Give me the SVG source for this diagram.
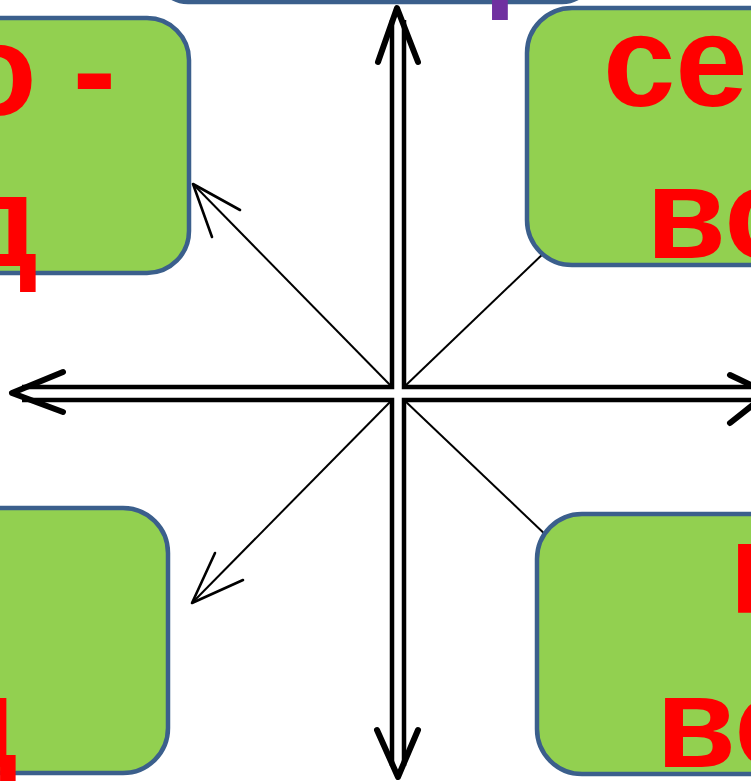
<svg xmlns="http://www.w3.org/2000/svg" width="751" height="781" viewBox="0 0 751 781">
<style>
.box{fill:#92D050;stroke:#3B5F8C;stroke-width:4.5}
.lbl{font-family:"Liberation Sans",Arial,sans-serif;font-weight:bold;font-size:130px;fill:#FF0000}
.main{fill:none;stroke:#000;stroke-width:4.5;stroke-linejoin:miter}
.head{fill:none;stroke:#000;stroke-width:6;stroke-linecap:round;stroke-linejoin:round}
.diag{fill:none;stroke:#000;stroke-width:2}
.dhead{fill:none;stroke:#000;stroke-width:2.6;stroke-linecap:round;stroke-linejoin:round}
</style>
<rect width="751" height="781" fill="#fff"/>
<g id="connectors">
<polyline class="main" points="392,20 392,387 22,387"/>
<polyline class="main" points="404,20 404,387 765,387"/>
<polyline class="main" points="392,766 392,400 22,400"/>
<polyline class="main" points="404,766 404,400 765,400"/>
<polyline class="head" points="378,62 397,8 418,62"/>
<polyline class="head" points="377,730 398,777 418,730"/>
<polyline class="head" points="63,372 12,393 63,412"/>
<polyline class="head" points="730,375 768,393 730,423"/>
<line class="diag" x1="392" y1="387" x2="193" y2="184"/>
<polyline class="dhead" points="240,210 193,184 212,237"/>
<line class="diag" x1="392" y1="400" x2="192" y2="603"/>
<polyline class="dhead" points="215,553 192,603 243,580"/>
<line class="diag" x1="404" y1="387" x2="570" y2="228"/>
<line class="diag" x1="404" y1="400" x2="570" y2="558"/>
</g>
<g id="top">
<rect class="box" x="156" y="-200" width="438" height="202" rx="32"/>
<text x="484" y="-4" style="font-family:'Liberation Sans',Arial,sans-serif;font-weight:bold;font-size:115px;fill:#7030A0">р</text>
</g>
<g id="northwest">
<rect class="box" x="-250" y="18" width="439" height="255" rx="42"/>
<text class="lbl" x="116" y="115" text-anchor="end">северо -</text>
<text class="lbl" x="38" y="266" text-anchor="end">запад</text>
</g>
<g id="northeast">
<rect class="box" x="527" y="8" width="450" height="257" rx="45"/>
<text class="lbl" x="603" y="106">северо -</text>
<text class="lbl" x="646" y="258">восток</text>
</g>
<g id="southwest">
<rect class="box" x="-280" y="508" width="448" height="265" rx="45"/>
<text class="lbl" x="-10" y="613" text-anchor="end">юго -</text>
<text class="lbl" x="18" y="767" text-anchor="end">запад</text>
</g>
<g id="southeast">
<rect class="box" x="537" y="514" width="450" height="260" rx="45"/>
<text class="lbl" x="729" y="613">юго -</text>
<text class="lbl" x="656" y="767">восток</text>
</g>
</svg>
